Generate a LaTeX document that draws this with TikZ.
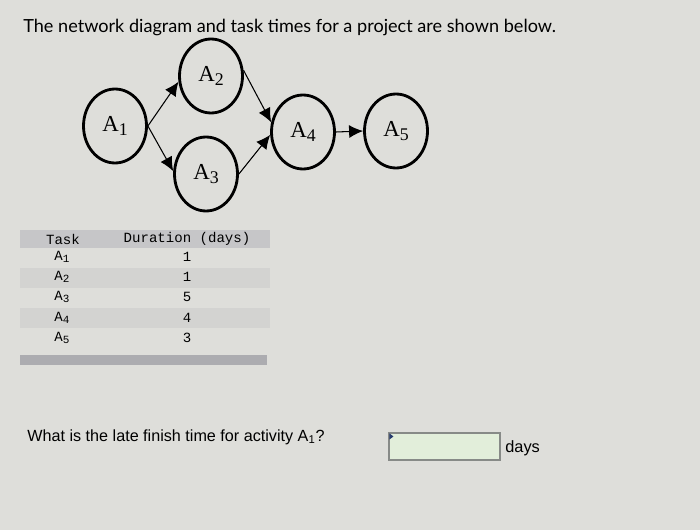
\documentclass[tikz,border=0pt]{standalone}
\usepackage{fontspec}
\usepackage{tikz}
\usetikzlibrary{shapes, arrows.meta, positioning}
\usepackage{xcolor}
\newfontfamily\headfont{Lato}
\newfontfamily\taskfont{Liberation Serif}
\newfontfamily\codefont{Liberation Mono}
\newfontfamily\askfont{Liberation Sans}
\definecolor{paper}{RGB}{222,222,218}
\definecolor{rowhead}{RGB}{198,198,200}
\definecolor{rowband}{RGB}{211,211,209}
\definecolor{scrollbar}{RGB}{172,172,176}
\definecolor{boxfill}{RGB}{226,238,218}
\definecolor{boxline}{RGB}{135,138,135}
\definecolor{cursor}{RGB}{40,60,110}
\newcommand{\sub}[1]{\raisebox{-0.3ex}{\fontsize{0.78em}{1em}\selectfont #1}}

\begin{document}
\begin{tikzpicture}[x=0.02cm,y=-0.02cm,
  task/.style={ellipse,draw,line width=1.6pt,minimum width=1.26cm,minimum height=1.48cm,inner sep=0pt,font=\fontsize{13}{15}\taskfont},
  link/.style={-{Latex[length=2.8mm,width=2.6mm]},line width=0.6pt},
  cell/.style={font=\fontsize{8}{9}\codefont,inner sep=0pt}]
\fill[paper] (0,0) rectangle (700,530);
\useasboundingbox (0,0) rectangle (700,530);
\node[anchor=west,inner sep=0pt,font=\fontsize{10.3}{12}\headfont] (head) at (23,27) {The network diagram and task times for a project are shown below.};
% network
\node[task] (A1) at (115,126) {A\sub{1}};
\node[task] (A2) at (211,76) {A\sub{2}};
\node[task] (A3) at (206,174) {A\sub{3}};
\node[task] (A4) at (303,132) {A\sub{4}};
\node[task] (A5) at (396,131) {A\sub{5}};
\draw[link] (A1.east) -- (A2.190);
\draw[link] (A1.east) -- (A3.175);
\draw[link] (A2.10) -- (A4.163);
\draw[link] (A3.0) -- (A4.185);
\draw[link] (A4.east) -- (A5.west);
% table
\fill[rowhead] (20,230) rectangle (270,248);
\fill[rowband] (20,268) rectangle (270,288);
\fill[rowband] (20,308) rectangle (270,328);
\fill[scrollbar] (20,355) rectangle (267,365);
\node[cell] (task) at (63,239) {Task};
\node[cell] (dur) at (187,239) {Duration (days)};
\node[cell] (t1) at (62,257) {A\sub{1}};
\node[cell] (d1) at (187,257) {1};
\node[cell] (t2) at (62,277) {A\sub{2}};
\node[cell] (d2) at (187,277) {1};
\node[cell] (t3) at (62,297) {A\sub{3}};
\node[cell] (d3) at (187,297) {5};
\node[cell] (t4) at (62,318) {A\sub{4}};
\node[cell] (d4) at (187,318) {4};
\node[cell] (t5) at (62,338) {A\sub{5}};
\node[cell] (d5) at (187,338) {3};
% question
\node[anchor=west,inner sep=0pt,font=\fontsize{9.2}{11}\askfont] (ask) at (27,437) {What is the late finish time for activity A\textsubscript{1}?};
\node[draw=boxline,fill=boxfill,line width=0.6pt,minimum width=2.22cm,minimum height=0.54cm,inner sep=0pt] (answer) at (444.5,446.5) {};
\fill[cursor] (answer.north west) ++(1,1) -- ++(4,3) -- ++(-4,3) -- cycle;
\node[anchor=west,inner sep=0pt,font=\fontsize{9.3}{11}\askfont] (unit) at (505,448) {days};
\end{tikzpicture}
\end{document}
